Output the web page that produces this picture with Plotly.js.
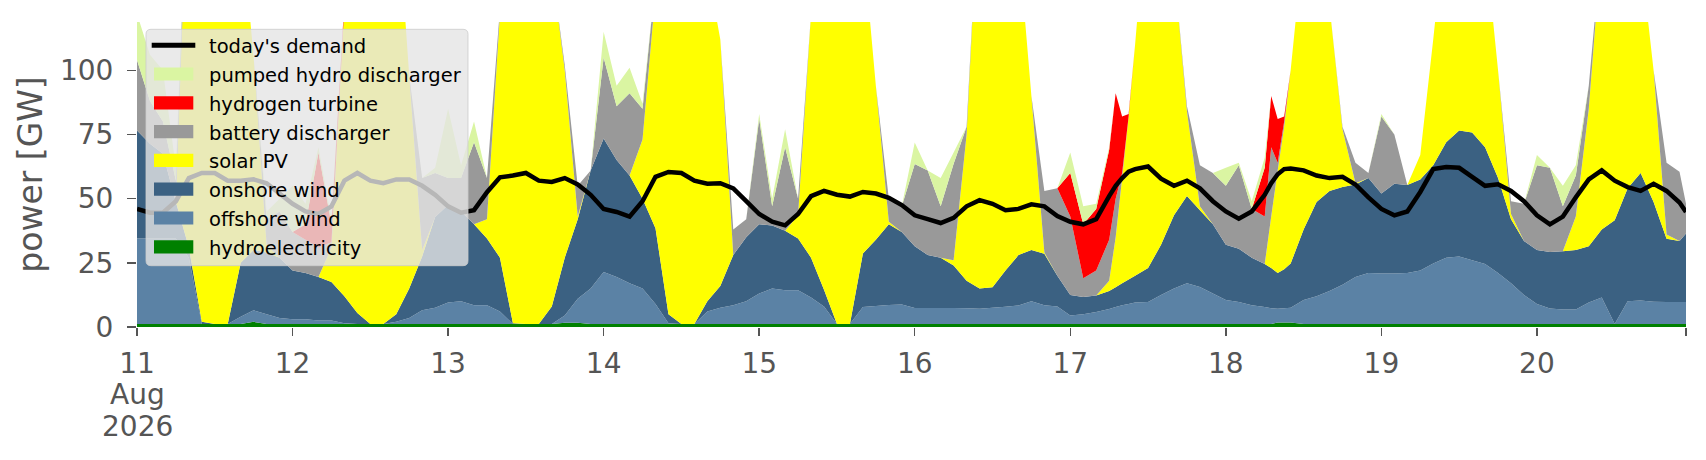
<!DOCTYPE html>
<html>
<head>
<meta charset="utf-8">
<script src="https://cdn.plot.ly/plotly-3.0.1.min.js"></script>
<style>
	body { margin: 0; background: #ffffff; }
	#power-chart { width: 1706px; height: 460px; }
</style>
</head>
<body>
<div id="power-chart"></div>
<script>
// hours after 11 Aug 2026 00:00, mostly one reading every 2 hours
const hours = [
	0, 2, 4, 6, 8, 10, 12, 14, 16, 18,
	20, 22, 24, 26, 28, 30, 32, 34, 36, 38,
	40, 42, 44, 46, 48, 50, 52, 54, 56, 58,
	60, 62, 64, 66, 68, 70, 72, 74, 76, 78,
	80, 82, 84, 86, 88, 90, 92, 94, 96, 98,
	100, 102, 104, 106, 108, 110, 112, 114, 116, 118,
	120, 122, 124, 126, 128, 130, 132, 134, 136, 138,
	140, 142, 144, 146, 148, 150, 151, 152, 153, 154, 156, 158,
	160, 162, 164, 166, 168, 170, 172, 174, 175, 176, 177, 178,
	180, 182, 184, 186, 188, 190, 192, 194, 196, 198,
	200, 202, 204, 206, 208, 210, 212, 214, 216, 218,
	220, 222, 224, 226, 228, 230, 232, 234, 236, 238,
	239
];

// GW
const hydroelectricity = [
	1.2, 1.2, 1.2, 1.2, 1.2, 1.2, 1.2, 1.2, 1.2, 2,
	1.2, 1.2, 1.2, 1.2, 1.2, 1.2, 1.2, 1.2, 1.2, 1.2,
	1.2, 1.2, 1.2, 1.2, 1.2, 1.2, 1.2, 1.2, 1.2, 1.2,
	1.2, 1.2, 1.2, 1.7, 1.7, 1.2, 1.2, 1.2, 1.2, 1.2,
	1.2, 1.2, 1.2, 1.2, 1.2, 1.2, 1.2, 1.2, 1.2, 1.2,
	1.2, 1.2, 1.2, 1.2, 1.2, 1.2, 1.2, 1.2, 1.2, 1.2,
	1.2, 1.2, 1.2, 1.2, 1.2, 1.2, 1.2, 1.2, 1.2, 1.2,
	1.2, 1.2, 1.2, 1.2, 1.2, 1.2, 1.2, 1.2, 1.2, 1.2, 1.2, 1.2,
	1.2, 1.2, 1.2, 1.2, 1.2, 1.2, 1.2, 1.2, 1.2, 1.8, 1.8, 1.8,
	1.2, 1.2, 1.2, 1.2, 1.2, 1.2, 1.2, 1.2, 1.2, 1.2,
	1.2, 1.2, 1.2, 1.2, 1.2, 1.2, 1.2, 1.2, 1.2, 1.2,
	1.2, 1.2, 1.2, 1.2, 1.2, 1.2, 1.2, 1.2, 1.2, 1.2,
	1.2
];

const offshoreWind = [
	33.3, 33.3, 33.3, 33.3, 25.8, 0, 0, 0, 2.8, 4.5,
	3.8, 2.3, 1.8, 1.8, 1.3, 1.3, 0.3, 0, 0, 0,
	0.8, 2.3, 5.3, 6.3, 8.3, 8.8, 7.3, 7.3, 4.8, 0,
	0, 0, 0, 2.8, 9.3, 13.8, 20.2, 18.3, 15.8, 13.8,
	7.8, 0.3, 0, 0, 4.8, 6.3, 7.3, 8.8, 11.8, 13.8,
	13.1, 13.1, 10.3, 6.8, 0, 0, 6.6, 7, 7.4, 7.6,
	6.2, 6.2, 6.2, 6.2, 6.1, 5.9, 6.3, 6.7, 7.2, 8.8,
	7.3, 6.8, 3.3, 3.8, 4.6, 5.8, 6.6, 7.3, 7.8, 8.3, 8.5, 11.3,
	13.8, 15.8, 14.4, 11.8, 9.3, 8.5, 7.3, 6.6, 6.1, 5.3, 5.5, 5.7,
	9.3, 10.8, 12.8, 15.3, 18.3, 19.8, 19.6, 19.6, 19.8, 20.8,
	23.5, 25.8, 26.3, 24.8, 23.3, 19.8, 15.8, 11.3, 7.8, 6,
	5.6, 5.6, 8.3, 10.3, 0, 8.8, 9.1, 8.6, 8.5, 8.5,
	8.5
];

const onshoreWind = [
	42, 36.9, 33, 14.2, 4, 0.8, 0, 0, 21, 23.5,
	24, 23.5, 19, 18, 17, 15, 10.5, 4.3, 0, 0,
	3, 11.5, 21, 35.3, 38, 35, 31.5, 26, 21, 0.3,
	0, 0, 6.8, 22.5, 31, 46, 52, 45.5, 42, 35,
	29.5, 3.5, 0, 0, 4, 8.5, 19.5, 25, 27, 24.5,
	23.2, 20.2, 15.5, 6.5, 0, 0, 20.8, 25.8, 31.4, 28.2,
	24.1, 20.6, 19.6, 16.6, 10.7, 7.9, 8, 14.1, 19.6, 20,
	20, 12, 8, 6.7, 6.5, 7, 7.7, 8.5, 9.5, 10.5, 13.3, 19.5,
	28.5, 34, 29.9, 27, 21.5, 20.8, 18.5, 16.7, 15.7, 13.9, 15.2, 17.2,
	27.5, 36.7, 39, 38, 36, 37, 31.2, 35, 34.3, 35.5,
	38.3, 45, 49, 49.8, 45.5, 37, 25, 21, 21, 22,
	22.7, 23.2, 22, 26.5, 40.4, 44, 49.7, 38.9, 24.7, 23.8,
	26.7
];

const solarPV = [
	0, 0, 0, 0, 159, 198, 209, 199, 135, 75,
	3, 0, 0, 0, 0, 13.5, 113, 164.5, 189, 199,
	165, 83, 2.5, 0, 0, 0, 0, 7.5, 95, 163.5,
	184, 174, 132, 73, 1, 0, 0, 0, 0, 23,
	91.5, 165, 189, 179, 130, 96, 0, 0, 0, 0,
	0, 9, 95, 155.5, 189, 179, 121.4, 60, 1, 0,
	0, 0, 0, 2, 57, 160, 174.5, 158, 122, 60,
	0.5, 0, 0, 0, 0, 4, 19.5, 41, 63.5, 90, 147, 148,
	96.5, 33, 1.5, 0, 0, 0, 0, 0, 20, 40, 55.5, 75.3,
	112, 121.3, 72, 22.5, 0.5, 0, 0, 0, 0, 9.5,
	49, 88, 103.5, 104.2, 80, 42, 2, 0, 0, 0,
	0, 13, 53.5, 112, 128.4, 106, 85, 51.3, 1.6, 0,
	0
];

const batteryDischarger = [
	27.5, 16.6, 12.5, 8.3, 5, 0, 0, 0, 0, 0,
	10, 18, 15, 13, 11.5, 2, 0, 0, 0, 0,
	0, 0, 28, 17.2, 10.5, 13, 32, 16, 2, 0,
	0, 0, 0, 2, 12, 0, 31.6, 21, 32, 12,
	5, 0, 0, 0, 0, 0, 10, 7, 41, 7.5,
	32.5, 6.5, 0, 0, 0, 0, 0, 0, 9, 10,
	32, 33, 20, 37.6, 3, 0, 0, 0, 0, 0,
	24, 34, 30.5, 7.3, 9.7, 16, 15, 2, 0, 0, 0, 0,
	0, 2, 16, 20, 23, 32.5, 19, 18.5, 27, 3, 2, 0,
	0, 0, 0, 1, 8, 2, 30, 19.2, 0, 0,
	0, 0, 0, 0, 0, 0, 5, 14.5, 33, 32.8,
	17.5, 16, 9, 0, 0, 0, 0, 0, 28, 27,
	11.6
];

const hydrogenTurbine = [
	0, 0, 0, 0, 0, 0, 0, 0, 0, 0,
	0, 0, 0, 6, 37, 7, 2, 0, 0, 0,
	0, 0, 0, 0, 0, 0, 0, 0, 0, 0,
	0, 0, 0, 0, 0, 0, 0, 0, 0, 0,
	0, 0, 0, 0, 0, 0, 0, 0, 0, 0,
	0, 0, 0, 0, 0, 0, 0, 0, 0, 0,
	0, 0, 0, 0, 0, 0, 0, 0, 0, 0,
	0, 0, 17, 21, 24, 35, 41, 22, 1, 0, 0, 0,
	0, 0, 0, 0, 0, 0, 0, 19, 20, 17, 2, 0,
	0, 0, 0, 0, 0, 0, 0, 0, 0, 0,
	0, 0, 0, 0, 0, 0, 0, 0, 0, 0,
	0, 0, 0, 0, 0, 0, 0, 0, 0, 0,
	0
];

const pumpedHydro = [
	18, 18, 20, 5, 0, 0, 0, 0, 0, 0,
	3, 5, 18, 8, 2, 2, 0, 0, 0, 0,
	0, 0, 0, 2, 27, 5, 8, 0, 0, 0,
	0, 0, 0, 0, 0, 0, 10, 8, 10, 2,
	0, 0, 0, 0, 0, 0, 0, 0, 2, 3,
	7, 0, 0, 0, 0, 0, 0, 0, 0, 0,
	8.4, 0, 11, 4.4, 0, 0, 0, 0, 0, 0,
	0, 0, 8, 7, 2, 1, 0, 0, 0, 0, 0, 0,
	0, 0, 0, 0, 7, 1, 3, 4, 0, 0, 0, 0,
	0, 0, 0, 0, 0, 0, 1, 0, 0, 0,
	0, 0, 0, 0, 0, 0, 0, 0, 4, 0,
	8, 4, 0, 0, 0, 0, 0, 0, 0, 0,
	0
];

const demand = [
	46, 44.5, 44.5, 49, 58, 60, 60, 57, 57, 57.5,
	56, 52, 48, 45, 44, 47, 57, 60, 57, 56,
	57.5, 57.5, 55, 51.5, 47, 44.5, 45.5, 52.5, 58.3, 59,
	60, 57, 56.5, 58, 55.5, 51.5, 46, 44.8, 43, 49,
	58.5, 60.4, 60, 57, 55.8, 56, 54, 49, 44, 41,
	39.6, 44, 51, 53, 51.5, 50.8, 52.6, 52, 50.3, 47.5,
	43.5, 42, 40.5, 42.5, 47, 49.4, 48, 45.5, 46, 47.8,
	47, 43.2, 41, 40, 42, 51, 55, 58, 60.5, 61.5, 62.5, 57.8,
	55, 57, 54, 49, 45, 42.2, 45, 51.5, 56, 59.5, 61.5, 61.7,
	61, 59, 58, 58.5, 55.5, 50.5, 46, 43.5, 45, 52.6,
	61.5, 62.3, 62, 58.5, 55, 55.6, 53, 49, 43.5, 40,
	43, 50.5, 57.5, 61, 57, 54.5, 53, 55.8, 53, 48.5,
	44.8
];

const dayTicks = ["2026-08-11", "2026-08-12", "2026-08-13", "2026-08-14", "2026-08-15",
	"2026-08-16", "2026-08-17", "2026-08-18", "2026-08-19", "2026-08-20", "2026-08-20 23:00"];
const dayLabels = ["11", "12", "13", "14", "15", "16", "17", "18", "19", "20", ""];
const firstDaySubLabels = ["Aug", "2026"];

const FONT = "DejaVu Sans, Liberation Sans, sans-serif";
const TEXT_GREY = "#555555";

// plot area in pixels, used to place the legend box like matplotlib does
const PLOT_LEFT = 137;
const PLOT_TOP = 22;
const PLOT_WIDTH = 1549;
const PLOT_HEIGHT = 305;

function hourToTime(h) {
	let d = new Date(Date.UTC(2026, 7, 11) + h * 3600 * 1000);
	return d.toISOString().slice(0, 16).replace("T", " ");
}

function paperX(px) {
	return (px - PLOT_LEFT) / PLOT_WIDTH;
}

function paperY(py) {
	return 1 - (py - PLOT_TOP) / PLOT_HEIGHT;
}

function areaTrace(name, values, color, times) {
	return {
		x: times,
		y: values,
		name: name,
		type: "scatter",
		mode: "none",
		stackgroup: "supply",
		fillcolor: color
	};
}

function roundedBoxPath(left, top, right, bottom, r) {
	let pts = [
		["M", left + r, top], ["L", right - r, top], ["Q", right, top, right, top + r],
		["L", right, bottom - r], ["Q", right, bottom, right - r, bottom],
		["L", left + r, bottom], ["Q", left, bottom, left, bottom - r],
		["L", left, top + r], ["Q", left, top, left + r, top]
	];
	let path = "";
	pts.forEach(p => {
		path += p[0];
		for (let i = 1; i < p.length; i += 2) {
			path += paperX(p[i]) + "," + paperY(p[i + 1]) + " ";
		}
	});
	return path + "Z";
}

function buildLegend(traces) {
	let shapes = [{
		type: "path",
		xref: "paper",
		yref: "paper",
		layer: "above",
		path: roundedBoxPath(146, 29.3, 468, 265.7, 5),
		fillcolor: "rgba(229,229,229,0.8)",
		line: { color: "rgba(204,204,204,0.8)", width: 1 }
	}];
	let annotations = [];

	let entries = traces.slice().reverse();
	entries.forEach((trace, i) => {
		let rowY = 45.2 + i * 28.8;
		if (trace.stackgroup) {
			shapes.push({
				type: "rect",
				xref: "paper",
				yref: "paper",
				layer: "above",
				x0: paperX(154), x1: paperX(193.3),
				y0: paperY(rowY - 6.6), y1: paperY(rowY + 6.6),
				fillcolor: trace.fillcolor,
				line: { width: 0 }
			});
		} else {
			shapes.push({
				type: "line",
				xref: "paper",
				yref: "paper",
				layer: "above",
				x0: paperX(151.7), x1: paperX(195.3),
				y0: paperY(rowY), y1: paperY(rowY),
				line: { color: trace.line.color, width: 5 }
			});
		}
		annotations.push({
			xref: "paper",
			yref: "paper",
			x: paperX(207.5),
			y: paperY(rowY + 1.5),
			xanchor: "left",
			yanchor: "middle",
			showarrow: false,
			borderpad: 0,
			text: trace.name,
			font: { family: FONT, size: 19.5, color: "#000000" }
		});
	});

	return { shapes: shapes, annotations: annotations };
}

function plotPower() {
	let times = hours.map(hourToTime);

	let data = [
		areaTrace("hydroelectricity", hydroelectricity, "#008000", times),
		areaTrace("offshore wind", offshoreWind, "#5b82a5", times),
		areaTrace("onshore wind", onshoreWind, "#3b6182", times),
		areaTrace("solar PV", solarPV, "#ffff00", times),
		areaTrace("battery discharger", batteryDischarger, "#999999", times),
		areaTrace("hydrogen turbine", hydrogenTurbine, "#ff0000", times),
		areaTrace("pumped hydro discharger", pumpedHydro, "#daf5a2", times),
		{
			x: times,
			y: demand,
			name: "today's demand",
			type: "scatter",
			mode: "lines",
			line: { color: "#000000", width: 4.5 }
		}
	];

	let legend = buildLegend(data);

	// month and year under the first day tick
	firstDaySubLabels.forEach((label, i) => {
		legend.annotations.push({
			xref: "x",
			yref: "paper",
			x: dayTicks[0],
			y: paperY(394.5 + i * 31.8),
			xanchor: "center",
			yanchor: "middle",
			showarrow: false,
			borderpad: 0,
			text: label,
			font: { family: FONT, size: 28, color: TEXT_GREY }
		});
	});

	let layout = {
		width: 1706,
		height: 460,
		margin: { l: PLOT_LEFT, r: 1706 - PLOT_LEFT - PLOT_WIDTH, t: PLOT_TOP, b: 460 - PLOT_TOP - PLOT_HEIGHT },
		paper_bgcolor: "#ffffff",
		plot_bgcolor: "#ffffff",
		font: { family: FONT, color: TEXT_GREY },
		showlegend: false,
		shapes: legend.shapes,
		annotations: legend.annotations,
		xaxis: {
			type: "date",
			range: [hourToTime(0), hourToTime(239)],
			tickmode: "array",
			tickvals: dayTicks,
			ticktext: dayLabels,
			ticks: "outside",
			ticklen: 8,
			tickwidth: 1.5,
			tickcolor: TEXT_GREY,
			ticklabelstandoff: 3,
			tickfont: { family: FONT, size: 28, color: TEXT_GREY },
			showgrid: false,
			zeroline: false,
			showline: false
		},
		yaxis: {
			range: [0, 118.8],
			tickmode: "array",
			tickvals: [0, 25, 50, 75, 100],
			ticks: "outside",
			ticklen: 9,
			tickwidth: 1.5,
			tickcolor: TEXT_GREY,
			ticklabelstandoff: 8,
			tickfont: { family: FONT, size: 28, color: TEXT_GREY },
			showgrid: false,
			zeroline: false,
			showline: false,
			title: {
				text: "power [GW]",
				font: { family: FONT, size: 33, color: TEXT_GREY },
				standoff: 7
			}
		}
	};

	Plotly.newPlot("power-chart", data, layout, { staticPlot: true });
}

plotPower();
</script>
</body>
</html>
